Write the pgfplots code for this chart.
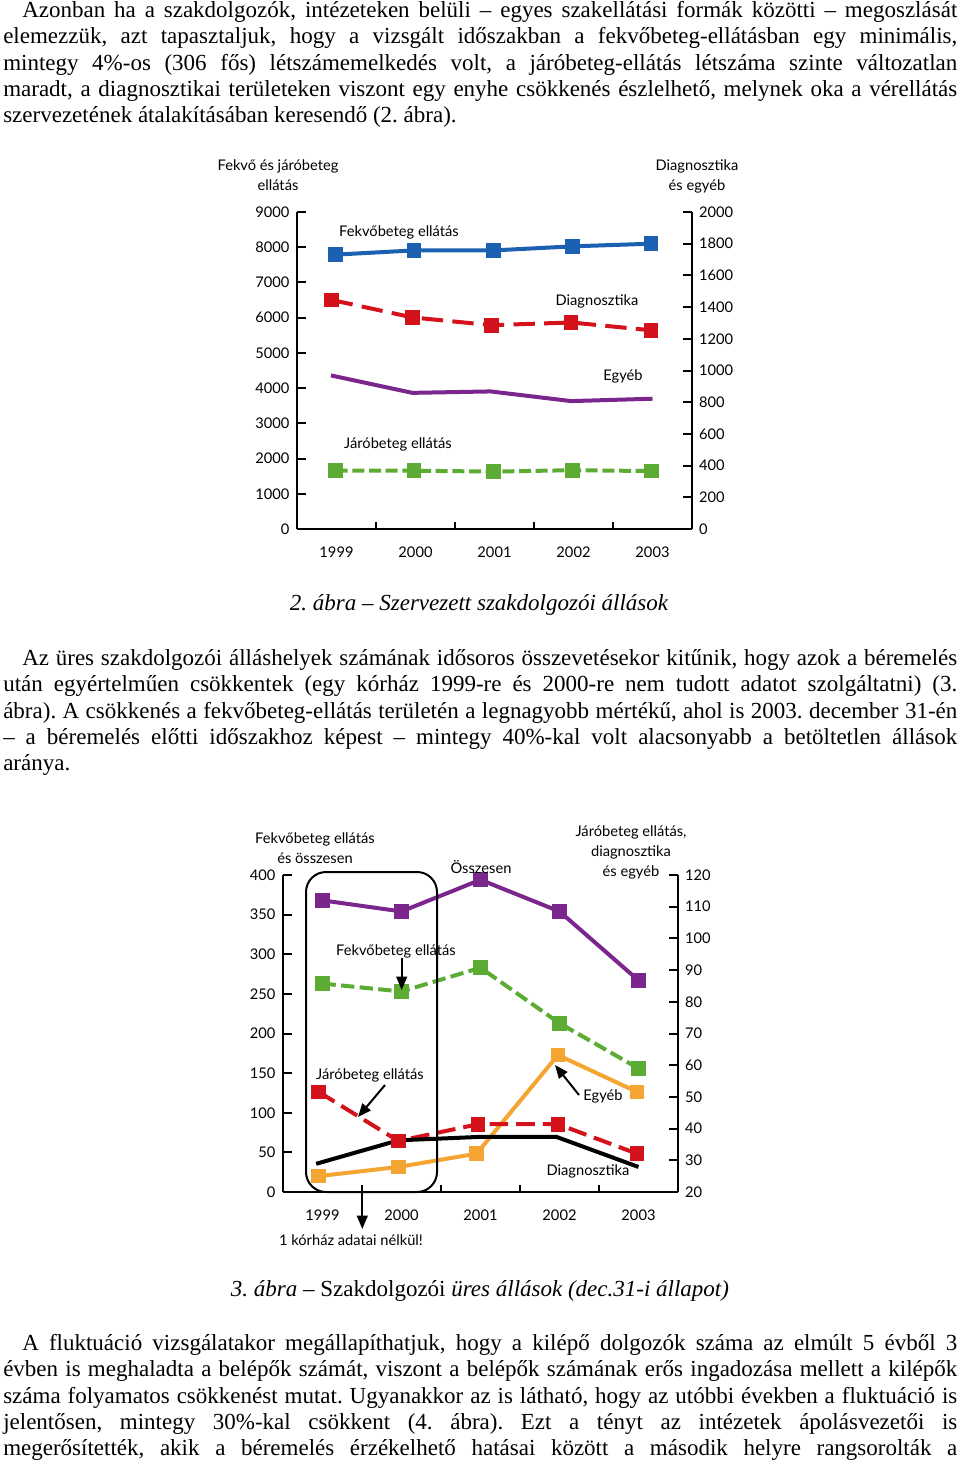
\documentclass[border=0pt]{standalone}
\usepackage{fontspec}
\setmainfont{Liberation Serif}
\newfontfamily\cf{Lato}
\usepackage{pgfplots}
\pgfplotsset{compat=1.18}
\usetikzlibrary{arrows.meta}
\definecolor{cblue}{RGB}{28,96,178}
\definecolor{cred}{RGB}{212,18,28}
\definecolor{cpurple}{RGB}{122,38,140}
\definecolor{cgreen}{RGB}{92,172,52}
\definecolor{corange}{RGB}{244,164,48}
\frenchspacing
\newcommand\bodyfont{\fontsize{17.25pt}{19.7pt}\selectfont}
\newcommand\chf{\cf\fontsize{11pt}{15pt}\selectfont}
\newcommand\JI[2]{\node[anchor=base west,inner sep=0pt] at (22,#1) {\bodyfont\makebox[701.25pt][s]{#2}};}
\newcommand\JL[2]{\node[anchor=base west,inner sep=0pt] at (3,#1) {\bodyfont\makebox[715.5pt][s]{#2}};}
\newcommand\LL[2]{\node[anchor=base west,inner sep=0pt] at (3,#1) {\bodyfont #2};}
\pgfplotsset{
  chartaxis/.style={
    anchor=south west, scale only axis, width=296.25pt, height=237.75pt,
    xmin=0.5, xmax=5.5, clip=false,
    axis line style={line width=1.9pt,-},
    tick align=inside, major tick length=7pt, minor tick length=5.5pt,
    every tick/.style={line width=1.5pt, black},
    ticklabel style={font=\chf},
    /pgf/number format/assume math mode=true,
    /pgf/number format/1000 sep={},
  },
  leftaxis/.style={chartaxis,
    axis y line*=left, axis x line*=bottom,
    xtick={1,2,3,4,5}, xticklabels={1999,2000,2001,2002,2003},
    minor xtick={1.5,2.5,3.5,4.5},
    major x tick style={draw=none},
    yticklabel style={inner sep=0pt, xshift=-5.5pt},
    xticklabel style={anchor=base, inner sep=0pt, yshift=-21.2pt},
  },
  rightaxis/.style={chartaxis,
    axis y line*=right, axis x line=none,
    yticklabel style={inner sep=0pt, xshift=5.2pt},
  },
  ln/.style={line width=3pt, mark=square*, mark size=4pt, mark options={solid}},
}
\begin{document}
\begin{tikzpicture}
\begin{scope}[x=0.75pt,y=-0.75pt]
\fill[white] (0,0) rectangle (960,1464);
\useasboundingbox (0,0) rectangle (960,1464);
\end{scope}

% ---------- chart 1
\begin{axis}[leftaxis, at={(222.75pt,-396.75pt)}, ymin=0, ymax=9000, ytick={0,1000,...,9000}]
\addplot[ln, cblue] coordinates {(0.99,7790) (1.98,7910) (2.99,7910) (3.99,8025) (4.98,8100)};
\addplot[ln, cgreen, dash pattern=on 9pt off 3.5pt] coordinates {(0.99,1655) (1.98,1655) (2.99,1630) (3.99,1670) (4.99,1645)};
\end{axis}
\begin{axis}[rightaxis, at={(222.75pt,-396.75pt)}, ymin=0, ymax=2000, ytick={0,200,...,2000}]
\addplot[ln, cred, dash pattern=on 16pt off 7pt] coordinates {(0.94,1445) (1.96,1335) (2.96,1286) (3.97,1303) (4.98,1254)};
\addplot[line width=3pt, cpurple, mark=none] coordinates {(0.93,969) (1.96,859) (2.95,868) (3.97,807) (5.0,822)};
\end{axis}

% ---------- chart 2
\begin{axis}[leftaxis, at={(212.25pt,-894pt)}, ymin=0, ymax=400, ytick={0,50,...,400}]
\addplot[ln, cpurple] coordinates {(1,368) (2,354) (3,394) (4,354) (5,267)};
\addplot[ln, cgreen, dash pattern=on 10pt off 4pt] coordinates {(1,263) (2,253) (3,283) (4,213) (5,156)};
\end{axis}
\begin{axis}[rightaxis, at={(212.25pt,-894pt)}, ymin=20, ymax=120, ytick={20,30,...,120}]
\addplot[ln, corange] coordinates {(0.95,25.0) (1.96,27.9) (2.95,32.1) (3.98,63.2) (4.98,51.6)};
\addplot[ln, cred, dash pattern=on 14pt off 6pt] coordinates {(0.95,51.6) (1.96,36.1) (2.97,41.4) (3.98,41.4) (4.98,32.1)};
\addplot[line width=3pt, black, mark=none] coordinates {(0.92,28.9) (1.96,36.3) (3.0,37.4) (3.96,37.4) (5.0,27.9)};
\end{axis}

\begin{scope}[x=0.75pt,y=-0.75pt]
% ---------- paragraph 1
\JI{17.5}{Azonban ha a szakdolgozók, intézeteken belüli – egyes szakellátási formák közötti – megoszlását}
\JL{43.8}{elemezzük, azt tapasztaljuk, hogy a vizsgált időszakban a fekvőbeteg-ellátásban egy minimális,}
\JL{70.1}{mintegy 4\%-os (306 fős) létszámemelkedés volt, a járóbeteg-ellátás létszáma szinte változatlan}
\JL{96.4}{maradt, a diagnosztikai területeken viszont egy enyhe csökkenés észlelhető, melynek oka a vérellátás}
\LL{122.7}{szervezetének átalakításában keresendő (2. ábra).}

\node[font=\chf, align=center] at (278,175) {Fekvő és járóbeteg\\ellátás};
\node[font=\chf, align=center] at (697,176) {Diagnosztika\\és egyéb};
\node[font=\chf] at (399,232) {Fekvőbeteg ellátás};
\node[font=\chf] at (597,301) {Diagnosztika};
\node[font=\chf] at (623,376) {Egyéb};
\node[font=\chf] at (398,444) {Járóbeteg ellátás};

\node[anchor=base,inner sep=0pt] at (479,610) {\bodyfont\itshape 2. ábra – Szervezett szakdolgozói állások};

% ---------- paragraph 2
\JI{665.5}{Az üres szakdolgozói álláshelyek számának idősoros összevetésekor kitűnik, hogy azok a béremelés}
\JL{691.8}{után egyértelműen csökkentek (egy kórház 1999-re és 2000-re nem tudott adatot szolgáltatni) (3.}
\JL{718.1}{ábra). A csökkenés a fekvőbeteg-ellátás területén a legnagyobb mértékű, ahol is 2003. december 31-én}
\JL{744.4}{– a béremelés előtti időszakhoz képest – mintegy 40\%-kal volt alacsonyabb a betöltetlen állások}
\LL{770.7}{aránya.}

\draw[line width=1.5pt, rounded corners=15] (306,872) rectangle (437,1192);
\node[font=\chf, align=center] at (315,848) {Fekvőbeteg ellátás\\és összesen};
\node[font=\chf, align=center] at (631,852) {Járóbeteg ellátás,\\diagnosztika\\és egyéb};
\node[font=\chf] at (481,867) {Összesen};
\node[font=\chf] at (396,951) {Fekvőbeteg ellátás};
\node[font=\chf] at (370,1075) {Járóbeteg ellátás};
\node[font=\chf] at (603,1096) {Egyéb};
\node[font=\chf] at (588,1171) {Diagnosztika};
\node[font=\chf] at (351,1240) {1 kórház adatai nélkül!};
\draw[line width=1.5pt, -{Triangle[length=10pt,width=8pt]}] (401.7,958) -- (401.7,990);
\draw[line width=1.5pt, -{Triangle[length=10pt,width=8pt]}] (385,1085) -- (358,1117);
\draw[line width=1.5pt, -{Triangle[length=10pt,width=8pt]}] (579,1095) -- (555,1065);
\draw[line width=1.5pt, -{Triangle[length=10pt,width=8pt]}] (362.3,1193) -- (362.3,1229);

\node[anchor=base,inner sep=0pt] at (480,1296) {\bodyfont\itshape 3. ábra – \upshape Szakdolgozói \itshape üres állások (dec.31-i állapot)};

% ---------- paragraph 3
\JI{1350.5}{A fluktuáció vizsgálatakor megállapíthatjuk, hogy a kilépő dolgozók száma az elmúlt 5 évből 3}
\JL{1376.8}{évben is meghaladta a belépők számát, viszont a belépők számának erős ingadozása mellett a kilépők}
\JL{1403.1}{száma folyamatos csökkenést mutat. Ugyanakkor az is látható, hogy az utóbbi években a fluktuáció is}
\JL{1429.4}{jelentősen, mintegy 30\%-kal csökkent (4. ábra). Ezt a tényt az intézetek ápolásvezetői is}
\JL{1455.7}{megerősítették, akik a béremelés érzékelhető hatásai között a második helyre rangsorolták a}
\end{scope}
\end{tikzpicture}
\end{document}
